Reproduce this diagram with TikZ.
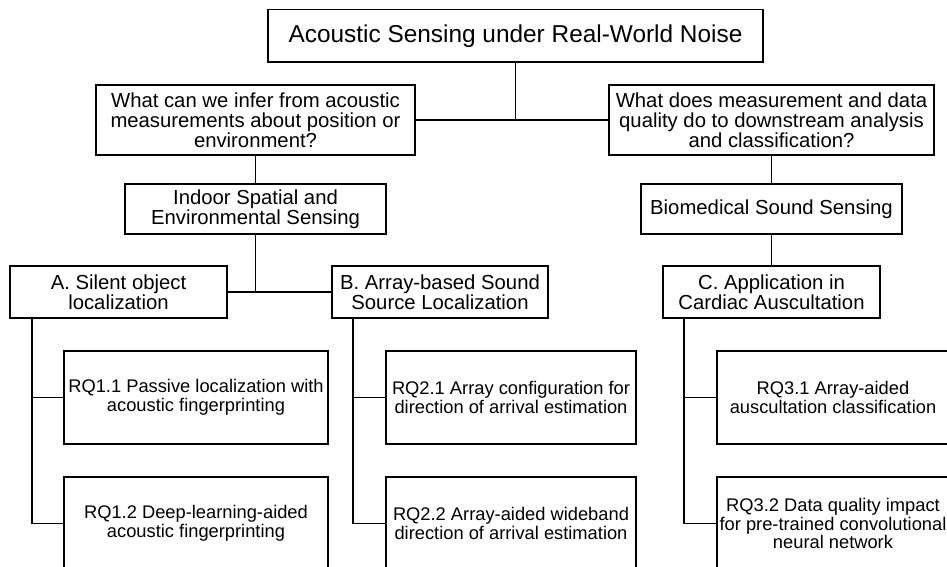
\documentclass[tikz,border=0pt]{standalone}
\usepackage{fontspec}
\setmainfont{Liberation Sans}

\begin{document}
\begin{tikzpicture}
        [x=1pt,y=-1pt,line width=1.8pt,
         every node/.style={draw,shape=rectangle,align=center,inner sep=0.5pt,line width=1.8pt},
         midbox/.style={font=\fontsize{20.3}{20.2}\selectfont},
         rqbox/.style={font=\fontsize{18.3}{18.6}\selectfont,minimum width=#1,minimum height=93pt}]

        \useasboundingbox (0,0) rectangle (947,567);

        \node[font=\fontsize{24.4}{26}\selectfont,minimum width=495pt,minimum height=52.5pt] (top) at (515.5, 35.75) {Acoustic Sensing under Real-World Noise};

        \node[midbox,minimum width=319pt,minimum height=70pt] (q1) at (255.5, 120) {What can we infer from acoustic\\measurements about position or\\environment?};
        \node[midbox,minimum width=325pt,minimum height=70pt] (q2) at (771.5, 120) {What does measurement and data\\quality do to downstream analysis\\and classification?};

        \node[midbox,minimum width=261pt,minimum height=50pt] (indoor) at (255.5, 209) {Indoor Spatial and\\Environmental Sensing};
        \node[midbox,minimum width=261pt,minimum height=50pt] (bio) at (771.5, 209) {Biomedical Sound Sensing};

        \node[midbox,minimum width=217pt,minimum height=52pt] (a) at (118.5, 292) {A. Silent object\\localization};
        \node[midbox,minimum width=216pt,minimum height=52pt] (b) at (440, 292) {B. Array-based Sound\\Source Localization};
        \node[midbox,minimum width=217pt,minimum height=52pt] (c) at (771.5, 292) {C. Application in\\Cardiac Auscultation};

        \node[rqbox=264pt] (rq11) at (196, 397.5) {RQ1.1 Passive localization with\\acoustic fingerprinting};
        \node[rqbox=264pt] (rq12) at (196, 523.5) {RQ1.2 Deep-learning-aided\\acoustic fingerprinting};
        \node[rqbox=250pt] (rq21) at (511, 397.5) {RQ2.1 Array configuration for\\direction of arrival estimation};
        \node[rqbox=250pt] (rq22) at (511, 523.5) {RQ2.2 Array-aided wideband\\direction of arrival estimation};
        \node[rqbox=232pt] (rq31) at (833, 397.5) {RQ3.1 Array-aided\\auscultation classification};
        \node[rqbox=232pt] (rq32) at (833, 523.5) {RQ3.2 Data quality impact\\for pre-trained convolutional\\neural network};

        \draw (q1) -- (q2);
        \draw (top) -- (top |- q1.east);
        \draw (q1) -- (indoor);
        \draw (q2) -- (bio);
        \draw (a) -- (b);
        \draw (indoor) -- (indoor |- a.east);
        \draw (bio) -- (c);

        \draw ([xshift=23pt]a.south west) |- (rq11.west);
        \draw ([xshift=23pt]a.south west) |- (rq12.west);
        \draw ([xshift=22pt]b.south west) |- (rq21.west);
        \draw ([xshift=22pt]b.south west) |- (rq22.west);
        \draw ([xshift=22pt]c.south west) |- (rq31.west);
        \draw ([xshift=22pt]c.south west) |- (rq32.west);
      \end{tikzpicture}
\end{document}
